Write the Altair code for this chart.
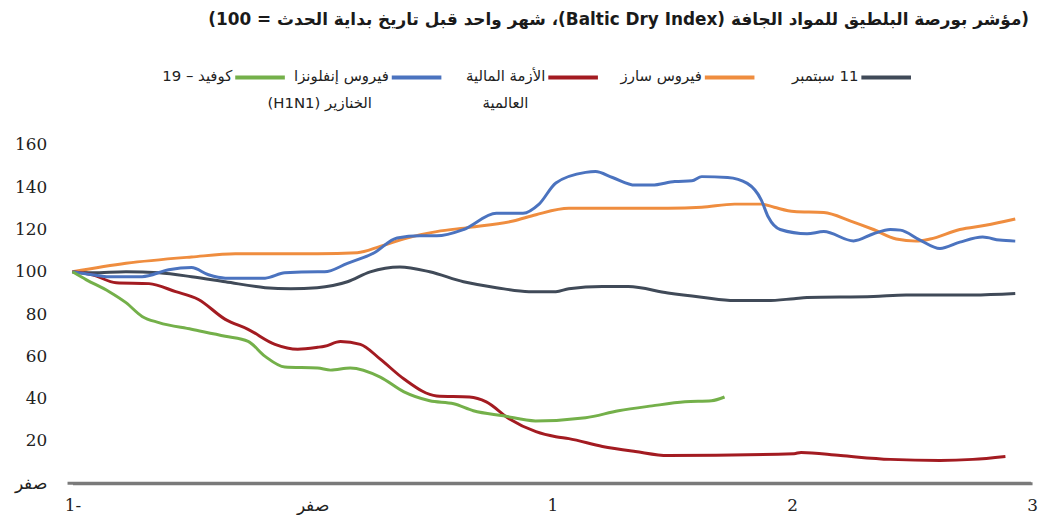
import altair as alt
import pandas as pd

RLE, PDF = "\u202b", "\u202c"

title_text = "(مؤشر بورصة البلطيق للمواد الجافة (Baltic Dry Index)، شهر واحد قبل تاريخ بداية الحدث = 100)"

series_names = [
    "11 سبتمبر",
    "فيروس سارز",
    "الأزمة المالية العالمية",
    "فيروس إنفلونزا الخنازير (H1N1)",
    "كوفيد – 19",
]
legend_line1 = ["11 سبتمبر", "فيروس سارز", "الأزمة المالية", "فيروس إنفلونزا", "كوفيد – 19"]
legend_line2 = ["", "", "العالمية", "الخنازير (H1N1)", ""]
series_colors = ["#404a58", "#ef8d3f", "#a31b21", "#4b73bf", "#74b04a"]

x_ticks = [-1, 0, 1, 2, 3]
y_ticks = [0, 20, 40, 60, 80, 100, 120, 140, 160]
baseline_value = [0]

# 11 September
sep_x = [-1.0, -0.917, -0.777, -0.64, -0.504, -0.363, -0.197, -0.09, 0.02, 0.146, 0.241, 0.365,
         0.489, 0.63, 0.767, 0.903, 1.015, 1.069, 1.209, 1.317, 1.482, 1.623, 1.76, 1.896, 2.008,
         2.062, 2.339, 2.475, 2.753, 2.93]
sep_y = [100, 99.5, 100, 99.5, 97.7, 95.3, 92.5, 92.0, 92.5, 95.3, 100, 102.3,
         100, 95.3, 92.5, 90.6, 90.6, 92, 93, 93, 90, 88, 86.4, 86.4, 87.3,
         87.8, 88.3, 89, 89, 89.7]

# SARS
sars_x = [-1.0, -0.777, -0.504, -0.321, 0.022, 0.187, 0.283, 0.394, 0.518, 0.655, 0.837, 0.932,
          1.069, 1.209, 1.482, 1.623, 1.76, 1.871, 1.925, 2.008, 2.132, 2.244, 2.339, 2.434,
          2.517, 2.575, 2.699, 2.806, 2.93]
sars_y = [100, 104, 107, 108.5, 108.5, 109, 112, 116, 119, 121, 124, 127,
          130, 130, 130, 130.5, 132, 132, 130.5, 128.5, 128, 124, 120, 115.5,
          114.5, 115.5, 120, 122, 125]

# Global financial crisis
gfc_x = [-1.0, -0.917, -0.818, -0.681, -0.57, -0.475, -0.363, -0.268, -0.156, -0.061, 0.022, 0.051,
         0.117, 0.2, 0.283, 0.382, 0.518, 0.655, 0.725, 0.82, 0.932, 1.015, 1.069, 1.209,
         1.346, 1.482, 2.008, 2.037, 2.202, 2.409, 2.616, 2.753, 2.889]
gfc_y = [100, 98.6, 94.8, 94.4, 90.6, 86.9, 77.5, 72.8, 65.7, 63.4, 64.3, 64.8,
         67, 65.7, 58.7, 49.3, 41.3, 40.8, 38.5, 30.5, 24.4, 22, 21.1, 17.4,
         15, 13.1, 14, 14.6, 13.1, 11.3, 10.8, 11.3, 12.7]

# H1N1
h1n1_x = [-1.0, -0.917, -0.847, -0.71, -0.599, -0.504, -0.433, -0.363, -0.197, -0.115, 0.022, 0.051,
          0.146, 0.258, 0.353, 0.448, 0.518, 0.63, 0.767, 0.878, 0.945, 1.015, 1.139, 1.18,
          1.251, 1.346, 1.416, 1.511, 1.582, 1.623, 1.731, 1.813, 1.871, 1.9, 1.95, 2.062,
          2.132, 2.256, 2.339, 2.409, 2.451, 2.533, 2.616, 2.699, 2.794, 2.864, 2.93]
h1n1_y = [100, 98.6, 97.7, 97.7, 101, 102, 98.6, 97, 97, 99.5, 100, 100,
          104, 109, 116, 117, 117, 120, 127.7, 127.7, 132, 142, 147, 147.4,
          144.6, 141, 141, 142.7, 143, 145, 144.6, 141.8, 134, 126, 120, 118,
          119, 114.6, 118, 120, 119.7, 115, 111, 114, 116.4, 115, 114.5]

# Covid-19
covid_x = [-1.0, -0.942, -0.847, -0.777, -0.71, -0.64, -0.504, -0.363, -0.268, -0.197, -0.115, 0.022,
           0.076, 0.158, 0.283, 0.382, 0.489, 0.589, 0.671, 0.796, 0.93, 1.139, 1.276, 1.416,
           1.553, 1.664, 1.718]
covid_y = [100, 96.2, 90.6, 85.4, 78.9, 76, 72.8, 69.5, 67.1, 60, 55, 54.5,
           53.5, 54.5, 50.2, 43.2, 39, 37.6, 34.3, 31.9, 29.5, 31, 34.3, 36.6,
           38.5, 39, 40.8]

all_x = [sep_x, sars_x, gfc_x, h1n1_x, covid_x]
all_y = [sep_y, sars_y, gfc_y, h1n1_y, covid_y]

rows = []
for name, xs, ys in zip(series_names, all_x, all_y):
    for i, (xv, yv) in enumerate(zip(xs, ys)):
        rows.append({"series": name, "x": xv, "y": yv, "i": i})
df = pd.DataFrame(rows)

AR_FONT = "DejaVu Sans"
NUM_FONT = "DejaVu Serif"

x_scale = alt.Scale(domain=[-1, 3], nice=False, zero=False)
y_scale = alt.Scale(domain=[0, 160], nice=False)

lines = alt.Chart(df).mark_line(strokeWidth=3, interpolate="monotone").encode(
    x=alt.X("x:Q", scale=x_scale,
            axis=alt.Axis(values=x_ticks, title=None, grid=False, ticks=False,
                          domain=True, domainColor="#7a7a7a", domainWidth=3,
                          labelFont=NUM_FONT, labelFontSize=17, labelColor="#222",
                          labelPadding=14, labelFlush=False, labelOverlap=False,
                          labelExpr="datum.value == 0 ? 'صفر' : (datum.value == -1 ? '1-' : datum.label)")),
    y=alt.Y("y:Q", scale=y_scale,
            axis=alt.Axis(values=y_ticks, title=None, grid=False, ticks=False, domain=False,
                          labelFont=NUM_FONT, labelFontSize=17, labelColor="#222",
                          labelPadding=26, labelOverlap=False,
                          labelExpr="datum.value == 0 ? 'صفر' : datum.label")),
    color=alt.Color("series:N", scale=alt.Scale(domain=series_names, range=series_colors), legend=None),
    order="i:Q",
    detail="series:N",
)

one = pd.DataFrame({"k": [0]})

# horizontal axis line at zero
baseline = alt.Chart(pd.DataFrame({"b": baseline_value})).mark_rule(
    color="#7a7a7a", strokeWidth=3).encode(
    y=alt.Y("b:Q", scale=y_scale), x=alt.value(-5), x2=alt.value(966))

title_mark = alt.Chart(one).mark_text(align="right", baseline="middle", font=AR_FONT,
                                      fontSize=17, fontWeight="bold", color="#1a1a1a").encode(
    x=alt.value(964), y=alt.value(-126), text=alt.value(RLE + title_text + PDF))

# custom right-to-left legend (symbol on the right of each label)
legend_layers = []
first_c = 820
step = 157.75
for idx in range(len(series_names)):
    c = first_c - step * idx
    legend_layers.append(
        alt.Chart(one).mark_rule(strokeWidth=4, color=series_colors[idx]).encode(
            x=alt.value(c - 25), x2=alt.value(c + 25), y=alt.value(-68))
    )
    legend_layers.append(
        alt.Chart(one).mark_text(align="right", baseline="middle", font=AR_FONT,
                                 fontSize=15, color="#222").encode(
            x=alt.value(c - 28), y=alt.value(-69),
            text=alt.value(RLE + legend_line1[idx] + PDF))
    )
    if legend_line2[idx]:
        legend_layers.append(
            alt.Chart(one).mark_text(align="right", baseline="middle", font=AR_FONT,
                                     fontSize=15, color="#222").encode(
                x=alt.value(c - 45), y=alt.value(-42),
                text=alt.value(RLE + legend_line2[idx] + PDF))
        )

chart = alt.layer(baseline, lines, title_mark, *legend_layers).properties(
    width=967,
    height=341,
    autosize=alt.AutoSizeParams(type="none"),
    padding={"left": 65, "top": 136, "right": 6, "bottom": 30},
).configure_view(stroke=None)

chart.save("out.html", embed_options={"renderer": "svg", "actions": False})
